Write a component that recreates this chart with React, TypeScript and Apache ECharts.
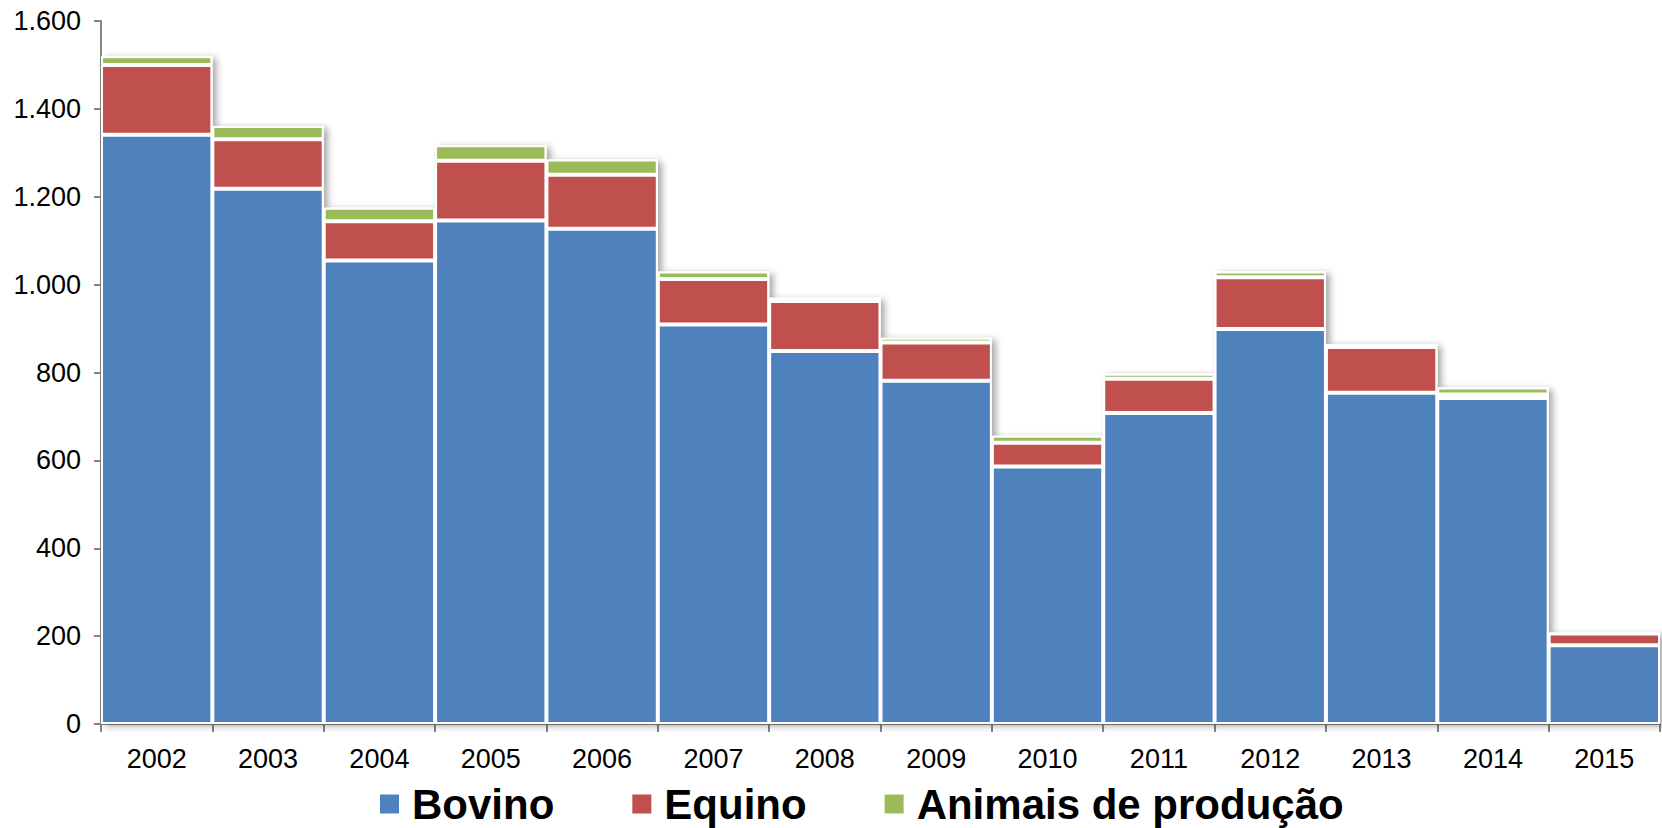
import React, { useEffect, useRef } from "react";
import * as echarts from "echarts";

const categories = ["2002", "2003", "2004", "2005", "2006", "2007", "2008", "2009", "2010", "2011", "2012", "2013", "2014", "2015"];
const bovino = [1341, 1218, 1055, 1146, 1127, 909, 849, 781, 586, 708, 899, 754, 742, 179];
const equino = [159, 113, 89, 136, 123, 104, 114, 87, 54, 78, 118, 104, 8, 27];
const animaisProducao = [20, 30, 31, 35, 35, 17, 7, 11, 16, 11, 13, 7, 16, 1];
const yTicks = [0, 200, 400, 600, 800, 1000, 1200, 1400, 1600];

const FONT = "'Liberation Sans', Arial, sans-serif";
const AXIS_COLOR = "#868686";

function fmt(v: number): string {
  return String(v).replace(/\B(?=(\d{3})+(?!\d))/g, ".");
}

export default function App() {
  const ref = useRef<HTMLDivElement>(null);

  useEffect(() => {
    if (!ref.current) return;
    const chart = echarts.init(ref.current, undefined, { renderer: "svg" });
    const totals = categories.map((_, i) => bovino[i] + equino[i] + animaisProducao[i]);
    const segStyle = (color: string) => ({
      color,
      borderColor: "#ffffff",
      borderWidth: 2,
    });
    chart.setOption({
      animation: false,
      backgroundColor: "#ffffff",
      grid: { left: 101, right: 2, top: 21, bottom: 104, containLabel: false },
      legend: {
        data: ["Bovino", "Equino", "Animais de produção"],
        left: 373,
        top: 778,
        icon: "rect",
        itemWidth: 21,
        itemHeight: 21,
        itemGap: 76,
        textStyle: {
          fontFamily: FONT,
          fontSize: 42,
          fontWeight: "bold",
          color: "#000000",
          lineHeight: 42,
          padding: [0, 0, 0, 7],
        },
      },
      xAxis: {
        type: "category",
        data: categories,
        axisLine: { lineStyle: { color: AXIS_COLOR, width: 2 } },
        axisTick: { show: true, alignWithLabel: false, length: 8, lineStyle: { color: AXIS_COLOR, width: 2 } },
        axisLabel: { fontFamily: FONT, fontSize: 27, color: "#000000", margin: 21 },
      },
      yAxis: {
        type: "value",
        min: yTicks[0],
        max: yTicks[yTicks.length - 1],
        interval: 200,
        splitLine: { show: false },
        axisLine: { show: true, lineStyle: { color: AXIS_COLOR, width: 2 } },
        axisTick: { show: true, length: 7, lineStyle: { color: AXIS_COLOR, width: 2 } },
        axisLabel: {
          fontFamily: FONT,
          fontSize: 27,
          color: "#000000",
          margin: 20,
          formatter: (v: number) => fmt(v),
        },
      },
      series: [
        {
          name: "sombra",
          type: "bar",
          data: totals,
          barGap: "-100%",
          barCategoryGap: "0%",
          z: 1,
          silent: true,
          itemStyle: {
            color: "#ffffff",
            shadowBlur: 7,
            shadowOffsetX: 4,
            shadowOffsetY: 2,
            shadowColor: "rgba(0,0,0,0.35)",
          },
        },
        {
          name: "Bovino",
          type: "bar",
          stack: "total",
          data: bovino,
          barGap: "-100%",
          barCategoryGap: "0%",
          z: 3,
          itemStyle: segStyle("#4F81BD"),
        },
        {
          name: "Equino",
          type: "bar",
          stack: "total",
          data: equino,
          barGap: "-100%",
          barCategoryGap: "0%",
          z: 3,
          itemStyle: segStyle("#C0504D"),
        },
        {
          name: "Animais de produção",
          type: "bar",
          stack: "total",
          data: animaisProducao,
          barGap: "-100%",
          barCategoryGap: "0%",
          z: 3,
          itemStyle: segStyle("#9BBB59"),
        },
      ],
    });
    return () => chart.dispose();
  }, []);

  return (
    <div
      ref={ref}
      style={{ position: "fixed", left: 0, top: 0, width: 1662, height: 828, background: "#fff" }}
    />
  );
}
